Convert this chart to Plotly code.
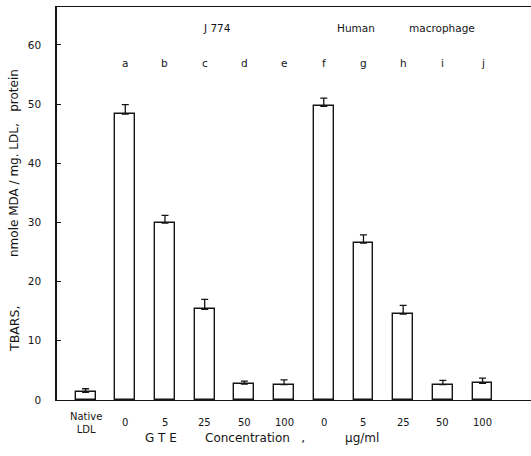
import plotly.graph_objects as go

categories = ["Native<br>LDL", "0", "5", "25", "50", "100", "0", "5", "25", "50", "100"]
letters = ["", "a", "b", "c", "d", "e", "f", "g", "h", "i", "j"]
values = [1.3, 48.3, 29.9, 15.3, 2.7, 2.6, 49.6, 26.5, 14.5, 2.6, 2.8]
errors = [0.6, 1.6, 1.3, 1.7, 0.5, 0.8, 1.4, 1.4, 1.5, 0.7, 0.9]
y_ticks = [0, 10, 20, 30, 40, 50, 60]
x_title_parts = ["G T E", "Concentration &nbsp;&nbsp;,", "μg/ml"]
y_title_parts = ["TBARS,", "nmole MDA / mg. LDL, &nbsp;&nbsp;protein"]

pos = list(range(len(categories)))
ink = "#151515"
font = "DejaVu Sans, Arial, sans-serif"
L, W, T, H = 57, 474, 7, 393


def px_x(v):
    return (v - L) / W


def px_y(v):
    return (T + H - v) / H


fig = go.Figure()
fig.add_trace(go.Bar(
    x=pos, y=values, width=0.5,
    marker=dict(color="white", line=dict(color=ink, width=1.4)),
    error_y=dict(type="data", symmetric=False, array=errors,
                 arrayminus=[0] * len(errors), color=ink, thickness=1.3, width=3.5),
    showlegend=False,
))

ann = []
for p, lab in zip(pos, categories):
    ann.append(dict(x=p, y=px_y(422.5), xref="x", yref="paper", text=lab, showarrow=False,
                    yanchor="middle", font=dict(size=10, color=ink, family=font)))
for p, lab in zip(pos, letters):
    if lab:
        ann.append(dict(x=p, y=56.9, xref="x", yref="y", text=lab, showarrow=False,
                        yanchor="middle", font=dict(size=10.5, color=ink, family=font)))
for xp, txt in [(3.31, "J 774"), (6.81, "Human"), (8.98, "macrophage")]:
    ann.append(dict(x=xp, y=62.8, xref="x", yref="y", text=txt, showarrow=False,
                    yanchor="middle", font=dict(size=10.5, color=ink, family=font)))
for xs, txt in zip([143, 203, 343], x_title_parts):
    ann.append(dict(x=px_x(xs), y=px_y(438), xref="paper", yref="paper", text=txt,
                    showarrow=False, xanchor="left", yanchor="middle",
                    font=dict(size=12, color=ink, family=font)))
for yc, txt, fs in zip([329, 163], y_title_parts, [12.5, 12]):
    ann.append(dict(x=px_x(14), y=px_y(yc), xref="paper", yref="paper", text=txt,
                    textangle=-90, showarrow=False, xanchor="center", yanchor="middle",
                    font=dict(size=fs, color=ink, family=font)))

fig.update_layout(
    width=531, height=456,
    margin=dict(l=L, r=0, t=T, b=456 - T - H),
    paper_bgcolor="white", plot_bgcolor="white",
    bargap=0,
    xaxis=dict(range=[-0.72, 11.22], showline=True, linecolor=ink, linewidth=1.2,
               mirror=True, showticklabels=False, ticks="", showgrid=False, zeroline=False),
    yaxis=dict(range=[0, 66.4], tickvals=y_ticks, showline=True, linecolor=ink,
               linewidth=1.5, ticks="inside", ticklen=4, tickcolor=ink, showgrid=False,
               zeroline=False, ticklabelstandoff=12,
               tickfont=dict(size=10.5, color=ink, family=font)),
    annotations=ann,
)

fig.write_html("out.html")
